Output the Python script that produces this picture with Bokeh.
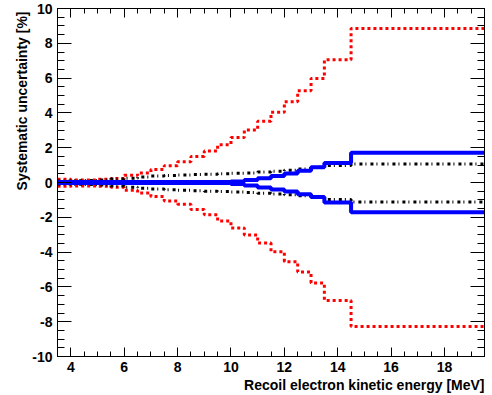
from bokeh.plotting import figure
from bokeh.models import (LinearAxis, SingleIntervalTicker, Title, Range1d, ColumnDataSource,
                          CustomLabelingPolicy)
from bokeh.embed import file_html
from bokeh.resources import INLINE

# bin edges (MeV)
edges = [3.5, 4.0, 4.5, 5.0, 5.5, 6.0, 6.5, 7.0, 7.5, 8.0, 8.5, 9.0, 9.5, 10.0,
         10.5, 11.0, 11.5, 12.0, 12.5, 13.0, 13.5, 14.5, 19.5]

red_up = [0.19, 0.15, 0.15, 0.18, 0.23, 0.42, 0.55, 0.75, 0.96, 1.19, 1.50, 1.81,
          2.17, 2.58, 3.02, 3.52, 4.04, 4.64, 5.27, 5.98, 7.06, 8.85]
red_dn = [-0.22, -0.20, -0.20, -0.22, -0.28, -0.45, -0.60, -0.81, -1.06, -1.25, -1.55, -1.86,
          -2.21, -2.61, -3.02, -3.48, -3.98, -4.55, -5.15, -5.78, -6.78, -8.28]
blk_up = [0.08, 0.10, 0.12, 0.15, 0.20, 0.25, 0.32, 0.38, 0.40, 0.43, 0.46, 0.48,
          0.50, 0.53, 0.55, 0.60, 0.65, 0.70, 0.77, 0.88, 0.98, 1.06]
blk_dn = [-0.08, -0.10, -0.12, -0.15, -0.20, -0.27, -0.33, -0.38, -0.42, -0.45, -0.48, -0.50,
          -0.52, -0.55, -0.58, -0.62, -0.66, -0.70, -0.76, -0.85, -0.98, -1.12]
blu_up = [0.03, 0.03, 0.03, 0.03, 0.03, 0.03, 0.03, 0.03, 0.03, 0.03, 0.03, 0.03,
          0.03, 0.06, 0.14, 0.25, 0.37, 0.52, 0.67, 0.87, 1.12, 1.71]
blu_dn = [-0.03, -0.03, -0.03, -0.03, -0.03, -0.03, -0.03, -0.03, -0.03, -0.03, -0.03, -0.03,
          -0.03, -0.08, -0.17, -0.29, -0.40, -0.52, -0.67, -0.83, -1.15, -1.71]

y_tick_values = [-10, -8, -6, -4, -2, 0, 2, 4, 6, 8, 10]
y_tick_labels = ["-10", "-8", "-6", "-4", "-2", "0", "2", "4", "6", "8", "10"]

x_title = "Recoil electron kinetic energy [MeV]"
y_title = "Systematic uncertainty [%]"

FONT = "Liberation Sans"

p = figure(width=492, height=395, output_backend="svg", toolbar_location=None,
           x_range=Range1d(3.5, 19.5), y_range=Range1d(-10, 10),
           min_border_left=57, min_border_right=8, min_border_top=8, min_border_bottom=39,
           background_fill_color="white", border_fill_color="white")
p.grid.visible = False
p.outline_line_color = "black"
p.outline_line_width = 1


def step_src(vals):
    return ColumnDataSource(dict(x=edges, y=list(vals) + [vals[-1]]))


for vals in (red_up, red_dn):
    p.step("x", "y", source=step_src(vals), mode="after", line_color="#ff0000",
           line_width=3, line_dash="3 3")
for vals in (blk_up, blk_dn):
    p.step("x", "y", source=step_src(vals), mode="after", line_color="black",
           line_width=3, line_dash="3 3 1 4")
for vals in (blu_up, blu_dn):
    p.step("x", "y", source=step_src(vals), mode="after", line_color="#0000ff",
           line_width=4)


def style_axis(ax, major_in, minor_in, labels=True):
    ax.major_tick_in = major_in
    ax.major_tick_out = 0
    ax.minor_tick_in = minor_in
    ax.minor_tick_out = 0
    ax.axis_line_color = "black"
    ax.major_tick_line_color = "black"
    ax.minor_tick_line_color = "black"
    ax.major_label_text_font = FONT
    ax.major_label_text_font_style = "bold"
    ax.major_label_text_color = "black"
    if labels:
        ax.major_label_text_font_size = "14px"
        ax.major_label_standoff = 5
    else:
        ax.major_label_policy = CustomLabelingPolicy(code="return []")
        ax.major_label_text_font_size = "0px"
        ax.major_label_standoff = 0


xt = SingleIntervalTicker(interval=2, num_minor_ticks=4)
yt = SingleIntervalTicker(interval=2, num_minor_ticks=4)

xa = p.xaxis[0]
xa.ticker = xt
style_axis(xa, 9, 5)

ya = p.yaxis[0]
ya.ticker = yt
style_axis(ya, 14, 7)
ya.major_label_overrides = {v: s for v, s in zip(y_tick_values, y_tick_labels)}

top = LinearAxis(ticker=xt)
style_axis(top, 9, 5, labels=False)
p.add_layout(top, "above")

right = LinearAxis(ticker=yt)
style_axis(right, 14, 7, labels=False)
p.add_layout(right, "right")

tb = Title(text=x_title, align="right", text_font=FONT, text_font_style="bold",
           text_font_size="14px", text_color="black", offset=0, standoff=0)
p.add_layout(tb, "below")
tl = Title(text=y_title, align="right", text_font=FONT, text_font_style="bold",
           text_font_size="14px", text_color="black", offset=3, standoff=0)
p.add_layout(tl, "left")

open("out.html", "w").write(file_html(p, INLINE))
